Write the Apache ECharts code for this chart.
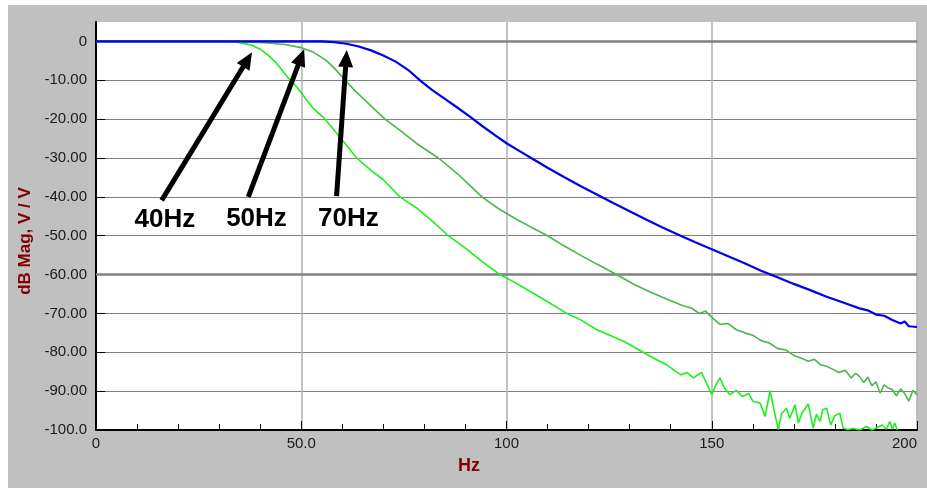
<!DOCTYPE html>
<html>
<head>
<meta charset="utf-8">
<script src="https://cdn.jsdelivr.net/npm/echarts@6/dist/echarts.min.js"></script>
<style>
html,body{margin:0;padding:0;background:#fff;}
#bg{position:absolute;left:8px;top:5px;width:919px;height:483px;background:#c0c0c0;}
#chart{position:absolute;left:0;top:0;width:927px;height:488px;}
</style>
</head>
<body>
<div id="bg"></div>
<div id="chart"></div>
<script>
// ---- data ----
const xTicks = [0, 50, 100, 150, 200];
const xTickLabels = ['0', '50.0', '100', '150', '200'];
const yTicks = [0, -10, -20, -30, -40, -50, -60, -70, -80, -90, -100];
const yTickLabels = ['0', '-10.00', '-20.00', '-30.00', '-40.00', '-50.00', '-60.00', '-70.00', '-80.00', '-90.00', '-100.0'];
const emphasisLines = [0, -60];

const seriesNames = ['40Hz', '50Hz', '70Hz'];

const freq70 = [0, 20, 40, 55, 58, 61, 64, 67, 70, 73, 76, 79, 82, 85, 88, 91, 94, 97, 100, 103, 106, 110, 114, 118, 122, 126, 130, 134, 138, 142, 146, 150, 154, 158, 162, 166, 170, 174, 178, 182, 186, 188, 190, 192, 194, 196, 197, 198, 200];
const db70 = [0, 0, 0, 0, -0.2, -0.6, -1.3, -2.3, -3.6, -5.2, -7.3, -10.1, -12.6, -14.8, -17.0, -19.3, -21.7, -24.0, -26.2, -28.1, -30.0, -32.5, -34.9, -37.2, -39.4, -41.6, -43.7, -45.8, -47.9, -49.8, -51.7, -53.5, -55.3, -57.1, -59.0, -60.7, -62.4, -64.0, -65.7, -67.2, -68.7, -69.2, -70.3, -70.6, -71.7, -72.6, -72.1, -73.3, -73.5];

const freq50 = [0, 30, 38, 42, 46, 50, 53, 56, 58, 60.7, 63, 66, 70.4, 74, 78, 83.4, 88, 94, 98, 102, 106, 110, 114, 118, 122, 126.8, 131, 135, 139, 143, 145, 147, 148.5, 150, 152, 154, 156, 158, 160, 162, 164, 166, 168, 170, 172, 173.5, 175, 176.5, 178, 179.5, 181, 182.5, 184, 185, 186, 187, 188, 189, 190, 191, 192, 193, 194, 195, 196, 197, 198, 199, 200];
const db50 = [0, 0, -0.2, -0.4, -0.8, -1.6, -2.8, -4.8, -6.8, -10, -12.6, -15.6, -20, -22.8, -26.2, -30, -34, -40, -43, -45.5, -47.8, -50, -52.6, -55, -57.3, -60, -62.5, -64.5, -66.3, -68, -68.6, -70, -69.4, -71, -72.8, -72.6, -74.2, -75, -75.6, -77, -77.6, -79, -79.4, -80.8, -81.6, -82.3, -81.8, -83.2, -83.6, -84.4, -85.2, -84.6, -86.6, -85.4, -86.2, -87.8, -86.4, -88.6, -87.6, -90.5, -88.4, -89.2, -89.6, -91.2, -89.4, -90.6, -92.6, -89.8, -90.9];

const freq40 = [0, 33, 35, 38, 40, 42, 44, 46, 47.3, 49, 51, 53, 55.8, 58, 60.5, 63.5, 67, 70, 74, 78, 82, 85.8, 90, 94, 98.4, 102, 106, 110, 114.7, 118, 122, 126, 129, 133.3, 136, 139, 141, 142.5, 144, 145.5, 147.5, 149, 150, 151, 152, 153, 154.4, 156, 157.5, 159, 160, 161.8, 163, 164.2, 165, 166.2, 167, 168.2, 169, 170.3, 171.1, 172, 173.5, 174.7, 175.5, 176.4, 177, 178, 179, 180, 181.2, 182, 183, 184.5, 186, 187.7, 189, 190.5, 191.5, 192.5, 193.4, 194, 194.6, 195.2];
const db40 = [0, 0, -0.3, -1.0, -2.0, -3.6, -5.6, -8.3, -10, -11.8, -14.6, -17.3, -20, -22.8, -26, -30, -33.2, -35.6, -40, -42.8, -46.3, -50, -53.2, -56.6, -60, -62, -64.5, -67, -70, -71.6, -74.2, -76, -77.4, -80, -81.6, -83.2, -84.8, -85.8, -85.2, -86.6, -85.2, -88.6, -90.9, -88.4, -86.6, -89, -90.9, -89.8, -91.4, -90.6, -92.6, -93.1, -96.5, -89.9, -94, -99.9, -95.8, -94.4, -97, -93.5, -98.2, -95.6, -93.3, -99.5, -96, -97.8, -94.8, -94.4, -98.7, -96.3, -95.7, -99.5, -99.9, -99.6, -100, -99.1, -100, -99.3, -98.7, -99.8, -97.8, -99.8, -98.2, -100];

// arrow annotations (data coordinates)
const arrowLabels = ['40Hz', '50Hz', '70Hz'];
const arrowTail = [[16.0, -40.9], [37.1, -40.0], [58.6, -39.8]];
const arrowTip = [[38.0, -2.8], [50.7, -2.0], [61.1, -2.2]];
const arrowTextAt = [[16.8, -45.8], [39.1, -45.7], [61.5, -45.7]];

function pairs(xs, ys) { return xs.map((x, i) => [x, ys[i]]); }

const FONT = '"Liberation Sans", Arial, sans-serif';
const chart = echarts.init(document.getElementById('chart'), null, {renderer: 'canvas'});

const option = {
  animation: false,
  backgroundColor: 'transparent',
  grid: {left: 96, top: 22, right: 10, bottom: 58, show: true, backgroundColor: '#ffffff', borderWidth: 0, containLabel: false},
  xAxis: {
    type: 'value', min: 0, max: 200, interval: 50,
    axisLine: {show: true, onZero: false, lineStyle: {color: '#000', width: 2}},
    axisTick: {show: true, inside: true, length: 9, lineStyle: {color: '#000', width: 1}},
    minorTick: {show: true, splitNumber: 5, length: 6, lineStyle: {color: '#000', width: 1}},
    splitLine: {show: true, lineStyle: {color: '#b0b0b0', width: 1.5}},
    axisLabel: {
      color: '#1a1a1a', fontSize: 15, fontFamily: FONT, margin: 6, alignMaxLabel: 'right',
      formatter: v => { const i = xTicks.indexOf(v); return i >= 0 ? xTickLabels[i] : ''; }
    }
  },
  yAxis: {
    type: 'value', min: -100, max: 5,
    axisLine: {show: true, onZero: false, lineStyle: {color: '#000', width: 2}},
    axisTick: {show: true, inside: true, length: 9, customValues: yTicks, lineStyle: {color: '#000', width: 1}},
    splitLine: {show: true, showMaxLine: false, lineStyle: {color: '#808080', width: 1}},
    axisLabel: {
      color: '#1a1a1a', fontSize: 15, fontFamily: FONT, margin: 9, customValues: yTicks,
      formatter: v => { const i = yTicks.indexOf(v); return i >= 0 ? yTickLabels[i] : ''; }
    }
  },
  series: [
    {
      name: seriesNames[0], type: 'line', data: pairs(freq40, db40), showSymbol: false, symbol: 'none',
      lineStyle: {color: '#1cf01c', width: 1.6}, z: 2,
      markLine: {
        silent: true, symbol: 'none', label: {show: false}, animation: false, z: 1,
        lineStyle: {color: '#808080', width: 2.5, type: 'solid'},
        data: emphasisLines.map(v => ({yAxis: v}))
      }
    },
    {name: seriesNames[1], type: 'line', data: pairs(freq50, db50), showSymbol: false, symbol: 'none',
      lineStyle: {color: '#48b848', width: 1.6}, z: 3},
    {name: seriesNames[2], type: 'line', data: pairs(freq70, db70), showSymbol: false, symbol: 'none',
      lineStyle: {color: '#0000ee', width: 2.2}, z: 4}
  ]
};
chart.setOption(option);

function buildGraphics() {
  const els = [];
  const HL = 17, HW = 7.5;
  for (let k = 0; k < arrowLabels.length; k++) {
    const p0 = chart.convertToPixel({gridIndex: 0}, arrowTail[k]);
    const p1 = chart.convertToPixel({gridIndex: 0}, arrowTip[k]);
    const dx = p1[0] - p0[0], dy = p1[1] - p0[1];
    const L = Math.hypot(dx, dy), ux = dx / L, uy = dy / L;
    const bx = p1[0] - ux * HL, by = p1[1] - uy * HL;
    els.push({type: 'line', z: 100, silent: true,
      shape: {x1: p0[0], y1: p0[1], x2: bx + ux * 3, y2: by + uy * 3},
      style: {stroke: '#000', lineWidth: 5}});
    els.push({type: 'polygon', z: 100, silent: true,
      shape: {points: [[p1[0], p1[1]], [bx - uy * HW, by + ux * HW], [bx + uy * HW, by - ux * HW]]},
      style: {fill: '#000'}});
    const t = chart.convertToPixel({gridIndex: 0}, arrowTextAt[k]);
    els.push({type: 'text', z: 100, silent: true, x: t[0], y: t[1],
      style: {text: arrowLabels[k], font: 'bold 26px ' + FONT, fill: '#000',
        align: 'center', verticalAlign: 'middle', textAlign: 'center', textVerticalAlign: 'middle'}});
  }
  // axis names
  els.push({type: 'text', z: 100, silent: true, x: 469, y: 466,
    style: {text: 'Hz', font: 'bold 18px ' + FONT, fill: '#800000',
      align: 'center', verticalAlign: 'middle', textAlign: 'center', textVerticalAlign: 'middle'}});
  els.push({type: 'text', z: 100, silent: true, x: 25, y: 241, rotation: Math.PI / 2,
    style: {text: 'dB Mag, V / V', font: 'bold 17px ' + FONT, fill: '#800000',
      align: 'center', verticalAlign: 'middle', textAlign: 'center', textVerticalAlign: 'middle'}});
  return els;
}
chart.setOption({graphic: {elements: buildGraphics()}});
</script>
</body>
</html>
